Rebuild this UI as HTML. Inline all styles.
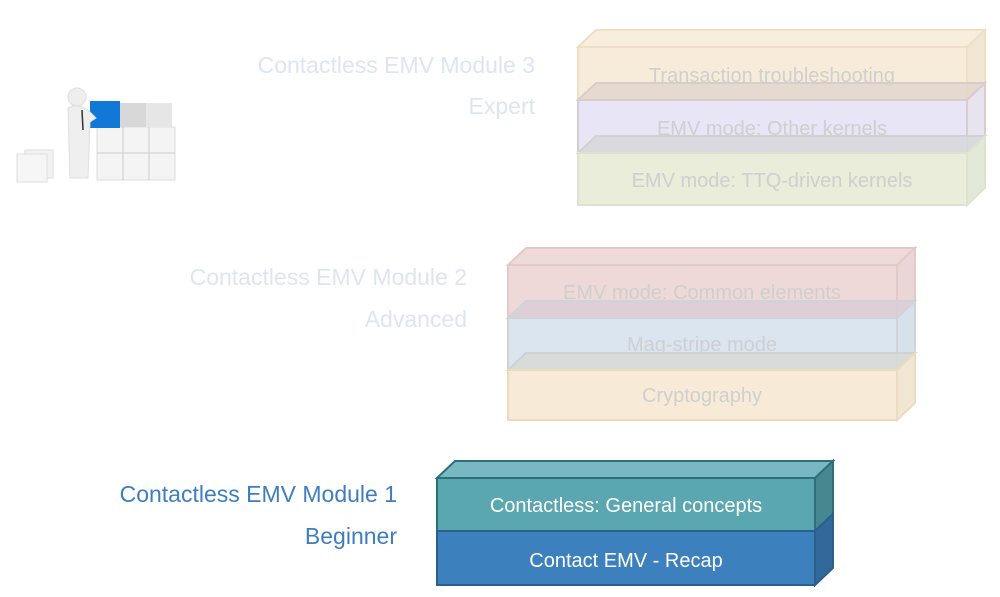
<!DOCTYPE html>
<html><head><style>
html,body{margin:0;padding:0;background:#fff;}
svg{display:block;}
text{font-family:"Liberation Sans",sans-serif;}
</style></head><body>
<svg width="1000" height="597" viewBox="0 0 1000 597" xmlns="http://www.w3.org/2000/svg">
<!-- clip art -->
<g>
<rect x="97" y="127" width="78" height="53" fill="#f4f4f4" stroke="#ddd"/>
<line x1="123" y1="127" x2="123" y2="180" stroke="#ccc"/>
<line x1="149" y1="127" x2="149" y2="180" stroke="#ccc"/>
<line x1="97" y1="153" x2="175" y2="153" stroke="#ccc"/>
<rect x="120" y="103" width="26" height="24" fill="#d8d8d8"/>
<rect x="146" y="103" width="26" height="24" fill="#e6e6e6"/>
<rect x="90" y="101" width="30" height="27" fill="#1278d8"/>
<circle cx="77" cy="97" r="9" fill="#eee" stroke="#ddd"/>
<path d="M68 108 Q78 103 88 110 L96 118 L90 122 L88 178 L70 178 Z" fill="#efefef" stroke="#ddd"/>
<line x1="82" y1="110" x2="83" y2="130" stroke="#333" stroke-width="1.5"/>
<rect x="25" y="150" width="28" height="28" fill="#f2f2f2" stroke="#ddd"/>
<rect x="17" y="154" width="30" height="28" fill="#f6f6f6" stroke="#ddd"/>
</g>

<!-- labels -->
<g font-size="23" text-anchor="end">
<text x="535" y="73" fill="#dce6f1">Contactless EMV Module 3</text>
<text x="535" y="114" fill="#dce6f1">Expert</text>
<text x="467" y="285" fill="#dce6f1">Contactless EMV Module 2</text>
<text x="467" y="327" fill="#dce6f1">Advanced</text>
<text x="397" y="502" fill="#3d7ebf">Contactless EMV Module 1</text>
<text x="397" y="544" fill="#3d7ebf">Beginner</text>
</g>

<!-- Module 3 -->
<g stroke-width="2" font-size="20" text-anchor="middle">
<g stroke="#efdfc4">
<polygon points="578,47 596,30 985,30 967,47" fill="#f7eedd"/>
<polygon points="967,47 985,30 985,83 967,100" fill="#f1e6d4"/>
<rect x="578" y="47" width="389" height="53" fill="#f7ecd9"/>
</g>
<text x="772" y="82" fill="#cfcfcf">Transaction troubleshooting</text>
<g stroke="#d8cccc">
<polygon points="578,100 596,83 985,83 967,100" fill="#e3d6cc" fill-opacity="0.85"/>
<polygon points="967,100 985,83 985,136 967,153" fill="#e7e4f0"/>
<rect x="578" y="100" width="389" height="53" fill="#e7e5f6"/>
</g>
<text x="772" y="135" fill="#cfcfcf">EMV mode: Other kernels</text>
<g stroke="#dde3cc">
<polygon points="578,153 596,136 985,136 967,153" fill="#d6d7da" fill-opacity="0.85" stroke="#cfd2d2"/>
<polygon points="967,153 985,136 985,188 967,205" fill="#e4e8d8"/>
<rect x="578" y="153" width="389" height="52" fill="#e9edda"/>
</g>
<text x="772" y="187" fill="#cfcfcf">EMV mode: TTQ-driven kernels</text>
</g>

<!-- Module 2 -->
<g stroke-width="2" font-size="20" text-anchor="middle">
<g stroke="#e4c9c9">
<polygon points="508,265 526,248 915,248 897,265" fill="#efdada"/>
<polygon points="897,265 915,248 915,301 897,318" fill="#ead6d6"/>
<rect x="508" y="265" width="389" height="53" fill="#eed8d8"/>
</g>
<text x="702" y="299" fill="#cfcfcf">EMV mode: Common elements</text>
<g stroke="#cfd3d8">
<polygon points="508,318 526,301 915,301 897,318" fill="#dbced6" fill-opacity="0.85"/>
<polygon points="897,318 915,301 915,353 897,370" fill="#d7e1ea"/>
<rect x="508" y="318" width="389" height="52" fill="#dae5f0"/>
</g>
<text x="702" y="351" fill="#cfcfcf">Mag-stripe mode</text>
<g stroke="#ecdcbf">
<polygon points="508,370 526,353 915,353 897,370" fill="#d6dad6" fill-opacity="0.85" stroke="#cfd3cf"/>
<polygon points="897,370 915,353 915,403 897,420" fill="#f1e6d2"/>
<rect x="508" y="370" width="389" height="50" fill="#f7ebd7"/>
</g>
<text x="702" y="402" fill="#cfcfcf">Cryptography</text>
</g>

<!-- Module 1 -->
<g stroke-width="2" font-size="20" text-anchor="middle">
<g stroke="#2f6f7a">
<polygon points="437,478 455,461 833,461 815,478" fill="#78b8c3"/>
<polygon points="815,478 833,461 833,514 815,531" fill="#468790"/>
<rect x="437" y="478" width="378" height="53" fill="#5aa7b1"/>
</g>
<g stroke="#2b5f8c">
<polygon points="815,531 833,514 833,568 815,585" fill="#30699a"/>
<rect x="437" y="531" width="378" height="54" fill="#3c80bd"/>
</g>
<text x="626" y="512" fill="#fff">Contactless: General concepts</text>
<text x="626" y="567" fill="#fff">Contact EMV - Recap</text>
</g>
</svg>
</body></html>
